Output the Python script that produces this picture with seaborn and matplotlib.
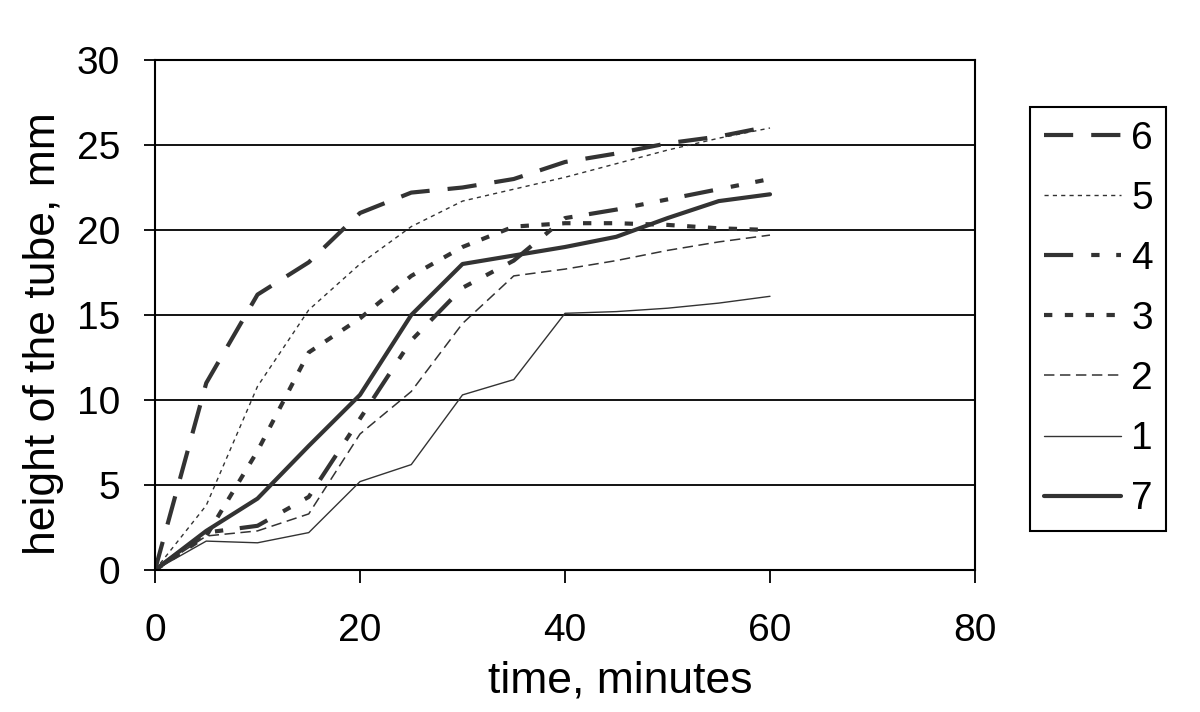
import numpy as np
import pandas as pd
import seaborn as sns
import matplotlib.pyplot as plt

time = [0, 5, 10, 15, 20, 25, 30, 35, 40, 45, 50, 55, 60]
s6 = [0, 11.0, 16.2, 18.1, 21.0, 22.2, 22.5, 23.0, 24.0, 24.5, 25.1, 25.5, 26.1]
s5 = [0, 3.8, 10.8, 15.3, 18.0, 20.2, 21.7, 22.4, 23.1, 23.9, 24.7, 25.4, 26.0]
s4 = [0, 2.2, 2.6, 4.3, 8.9, 13.5, 16.6, 18.2, 20.7, 21.2, 21.8, 22.4, 23.0]
s3 = [0, 2.0, 7.0, 12.8, 14.8, 17.3, 19.0, 20.2, 20.4, 20.4, 20.3, 20.1, 20.0]
s2 = [0, 2.0, 2.3, 3.3, 8.0, 10.5, 14.5, 17.3, 17.7, 18.2, 18.8, 19.3, 19.7]
s1 = [0, 1.7, 1.6, 2.2, 5.2, 6.2, 10.3, 11.2, 15.1, 15.2, 15.4, 15.7, 16.1]
s7 = [0, 2.3, 4.2, 7.3, 10.3, 15.0, 18.0, 18.5, 19.0, 19.6, 20.7, 21.7, 22.1]

labels = ["6", "5", "4", "3", "2", "1", "7"]
series = [s6, s5, s4, s3, s2, s1, s7]

# line look for each curve: (linewidth, linestyle)
styles = {
    "6": (3.0, (0, (21, 13))),
    "5": (1.0, (0, (3, 3))),
    "4": (3.0, (0, (21, 13, 6, 12, 6, 12))),
    "3": (3.0, (0, (6, 9))),
    "2": (1.1, (0, (7.5, 4))),
    "1": (1.0, "-"),
    "7": (3.0, "-"),
}

sns.set_style("white")
plt.rcParams["font.family"] = ["Liberation Sans", "DejaVu Sans"]
plt.rcParams["lines.scale_dashes"] = False
plt.rcParams["text.color"] = "black"
plt.rcParams["axes.labelcolor"] = "black"
plt.rcParams["xtick.color"] = "black"
plt.rcParams["ytick.color"] = "black"

fig = plt.figure(figsize=(12, 7.12), dpi=100)
ax = fig.add_axes([155 / 1200, 1 - 570 / 712, 820 / 1200, 510 / 712])

for lab, vals in zip(labels, series):
    lw, ls = styles[lab]
    df = pd.DataFrame({"time": time, "height": vals})
    sns.lineplot(data=df, x="time", y="height", ax=ax, color="#333333",
                 linewidth=lw, linestyle=ls, label=lab)

ax.set_xlim(0, 80)
ax.set_ylim(0, 30)
ax.set_xticks([0, 20, 40, 60, 80])
ax.set_yticks([0, 5, 10, 15, 20, 25, 30])
ax.yaxis.grid(True, color="black", linewidth=1.3)
ax.xaxis.grid(False)
for sp in ax.spines.values():
    sp.set_visible(True)
    sp.set_color("black")
    sp.set_linewidth(1.5)

ax.tick_params(axis="x", bottom=True, direction="out", length=9, width=1.3,
               pad=22, labelsize=28, labelcolor="black")
ax.tick_params(axis="y", left=True, direction="out", length=8, width=1.3,
               pad=17, labelsize=28, labelcolor="black")

ax.set_xlabel("time, minutes", fontsize=32)
ax.xaxis.label.set_va("baseline")
ax.xaxis.set_label_coords((620 - 155) / 820, (570 - 693) / 510)
ax.set_ylabel("height of the tube, mm", fontsize=32)
ax.yaxis.set_label_coords((64 - 155) / 820, (570 - 334) / 510)

ax.get_legend().remove()
handles, labs = ax.get_legend_handles_labels()
leg = fig.legend(handles, labs, loc="upper left",
                 bbox_to_anchor=(1030 / 1200, 1 - 107 / 712),
                 fontsize=28, frameon=True, fancybox=False,
                 edgecolor="black", framealpha=1, handlelength=2.0,
                 handletextpad=0.25, labelspacing=0.62, borderpad=0.35,
                 borderaxespad=0)
leg.get_frame().set_linewidth(1.5)

fig.savefig("out.png", dpi=100)
